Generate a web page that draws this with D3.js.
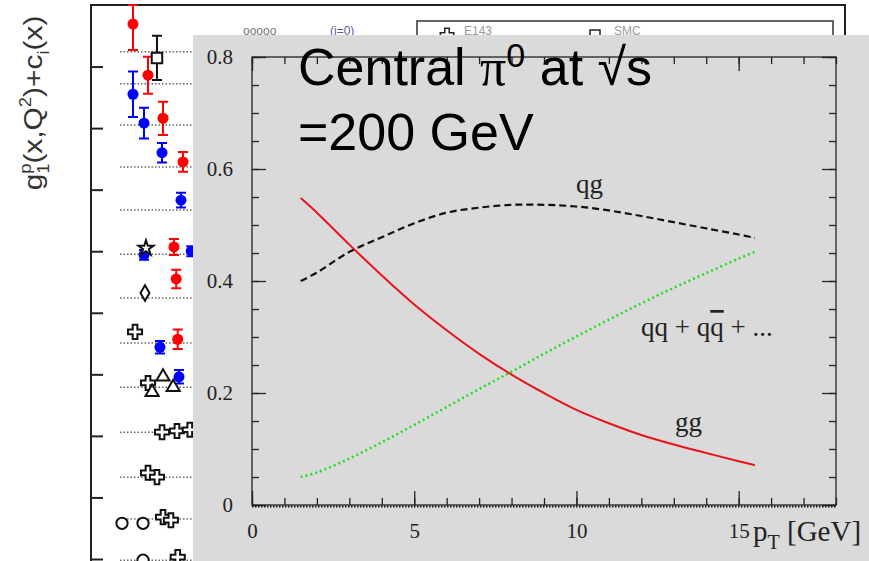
<!DOCTYPE html>
<html>
<head>
<meta charset="utf-8">
<script src="https://cdn.jsdelivr.net/npm/d3@7"></script>
<style>
  html, body { margin: 0; padding: 0; background: #fff; overflow: hidden; }
  svg { display: block; }
</style>
</head>
<body>
<div id="chart"></div>
<script>
// ---- inset: subprocess fractions for central pi0 at sqrt(s)=200 GeV ----
const pT     = [1.5, 2, 3, 4, 5, 6, 7, 8, 9, 10, 11, 12, 13, 14, 15, 15.5];
const ggFrac = [0.548, 0.522, 0.465, 0.41, 0.358, 0.312, 0.27, 0.233, 0.2, 0.17, 0.146, 0.125, 0.108, 0.093, 0.078, 0.071];
const qgFrac = [0.40, 0.415, 0.452, 0.478, 0.503, 0.522, 0.531, 0.536, 0.536, 0.533, 0.526, 0.516, 0.505, 0.494, 0.483, 0.477];
const qqFrac = [0.05, 0.058, 0.083, 0.112, 0.143, 0.175, 0.207, 0.238, 0.27, 0.301, 0.331, 0.36, 0.388, 0.414, 0.44, 0.452];
const xMajor = [0, 5, 10, 15];
const yMajor = [0, 0.2, 0.4, 0.6, 0.8];

// ---- background plot (mostly hidden behind the inset) ----
const bgTicks  = [0, 1, 2, 3, 4, 5, 6, 7, 8];
const bgGuides = [8.24, 7.72, 7.05, 6.37, 5.67, 4.95, 4.24, 3.51, 2.79, 2.06, 1.33, 0.65, -0.02];
// [x, y, error]
const redPts  = [[5.57, 8.69, 0.42], [7.56, 7.86, 0.30], [9.55, 7.16, 0.27], [12.2, 6.45, 0.16],
                 [11.0, 5.07, 0.13], [11.3, 4.55, 0.15], [11.5, 3.57, 0.16]];
const bluePts = [[5.57, 7.55, 0.37], [7.03, 7.08, 0.25], [9.42, 6.60, 0.16], [11.94, 5.83, 0.12],
                 [7.03, 4.94, 0.08], [13.3, 5.0, 0.08], [9.15, 3.44, 0.10], [11.67, 2.96, 0.11]];
// [x, y, marker, error]
const openPts = [[8.75, 8.14, 'square', 0.36], [7.29, 5.05, 'star', 0], [7.16, 4.32, 'diamond', 0],
                 [5.84, 3.69, 'cross', 0], [7.56, 2.86, 'cross', 0], [9.55, 2.96, 'triangle', 0],
                 [10.9, 2.79, 'triangle', 0], [8.1, 2.71, 'triangle', 0], [9.42, 2.06, 'cross', 0],
                 [11.4, 2.08, 'cross', 0], [13.1, 2.1, 'cross', 0], [7.56, 1.40, 'cross', 0],
                 [8.75, 1.33, 'cross', 0], [4.11, 0.58, 'circle', 0], [6.9, 0.58, 'circle', 0],
                 [9.55, 0.68, 'cross', 0], [10.6, 0.63, 'cross', 0], [6.9, -0.02, 'circle', 0],
                 [11.5, 0.03, 'cross', 0]];

const W = 869, H = 561;
const svg = d3.select('#chart').append('svg').attr('width', W).attr('height', H);
svg.append('rect').attr('width', W).attr('height', H).attr('fill', '#fff');

// ================= background plot =================
const bgX = d3.scaleLinear().domain([0, 100]).range([91, 845]);
const bgY = d3.scaleLinear().domain([0, 9]).range([559, 5]);
const bg = svg.append('g');
const sans = 'Liberation Sans, Arial, sans-serif';

bg.append('text')
  .attr('transform', `translate(42,103) rotate(-90) scale(1.15,1)`)
  .attr('text-anchor', 'middle')
  .attr('font-family', sans)
  .attr('font-size', 26).attr('fill', '#333')
  .call(t => {
    t.append('tspan').text('g');
    t.append('tspan').attr('font-size', 16).attr('dy', -11).text('p');
    t.append('tspan').attr('font-size', 16).attr('dx', -9).attr('dy', 18).text('1');
    t.append('tspan').attr('dy', -7).text('(x,Q');
    t.append('tspan').attr('font-size', 16).attr('dy', -11).text('2');
    t.append('tspan').attr('dy', 11).text(')+c');
    t.append('tspan').attr('font-size', 16).attr('dy', 7).text('i');
    t.append('tspan').attr('dy', -7).text('(x)');
  });

// frame
bg.append('path')
  .attr('d', `M${bgX(0)},${H}V${bgY(9)}H${bgX(100)}V${bgY(8)}`)
  .attr('fill', 'none').attr('stroke', '#222').attr('stroke-width', 2);
bg.append('g').attr('transform', `translate(${bgX(0)},0)`)
  .call(d3.axisRight(bgY).tickValues(bgTicks).tickSize(12).tickFormat(''))
  .call(g => { g.select('.domain').remove(); g.selectAll('line').attr('stroke', '#222').attr('stroke-width', 2); });

// legend remnants at the top
bg.append('rect').attr('x', 417).attr('y', 21).attr('width', 416).attr('height', 40)
  .attr('fill', 'none').attr('stroke', '#333').attr('stroke-width', 1.5);
bg.append('path').attr('d', d3.symbol(d3.symbolCross, 100)()).attr('transform', 'translate(447,35)')
  .attr('fill', '#fff').attr('stroke', '#222').attr('stroke-width', 1.5);
bg.append('path').attr('d', d3.symbol(d3.symbolSquare, 100)()).attr('transform', 'translate(595,35)')
  .attr('fill', '#fff').attr('stroke', '#222').attr('stroke-width', 1.5);
bg.append('text').attr('x', 464).attr('y', 35).attr('font-size', 12).attr('fill', '#999')
  .attr('font-family', sans).text('E143');
bg.append('text').attr('x', 614).attr('y', 35).attr('font-size', 12).attr('fill', '#999')
  .attr('font-family', sans).text('SMC');
bg.append('text').attr('x', 243).attr('y', 35).attr('font-size', 12).attr('fill', '#777')
  .attr('font-family', sans).text('ooooo');
bg.append('text').attr('x', 330).attr('y', 35).attr('font-size', 12).attr('fill', '#5a5aa0')
  .attr('font-family', sans).text('(i=0)');

// dotted guide lines
bg.selectAll('.guide').data(bgGuides).join('line')
  .attr('x1', bgX(3.85)).attr('x2', bgX(40))
  .attr('y1', d => bgY(d)).attr('y2', d => bgY(d))
  .attr('stroke', '#666').attr('stroke-width', 1.5).attr('stroke-dasharray', '1.5,2');

function errBars(sel, data, color) {
  sel.selectAll(null).data(data.filter(d => d[d.length === 4 ? 3 : 2] > 0)).join('path')
    .attr('d', d => {
      const e = d.length === 4 ? d[3] : d[2];
      const x = bgX(d[0]), y1 = Math.max(bgY(d[1] + e), bgY(9)), y2 = bgY(d[1] - e);
      return `M${x},${y1}V${y2}M${x - 5},${y1}h10M${x - 5},${y2}h10`;
    })
    .attr('stroke', color).attr('stroke-width', 2).attr('fill', 'none');
}
errBars(bg, redPts, '#f00');
errBars(bg, bluePts, '#00f');
errBars(bg, openPts, '#111');

bg.selectAll('.red').data(redPts).join('circle')
  .attr('cx', d => bgX(d[0])).attr('cy', d => bgY(d[1])).attr('r', 5.5).attr('fill', '#f00');
bg.selectAll('.blue').data(bluePts).join('circle')
  .attr('cx', d => bgX(d[0])).attr('cy', d => bgY(d[1])).attr('r', 5.5).attr('fill', '#00f');

const symbols = { square: d3.symbolSquare, star: d3.symbolStar, diamond: d3.symbolDiamond,
                  cross: d3.symbolCross, triangle: d3.symbolTriangle, circle: d3.symbolCircle };
const symSize = { square: 110, star: 70, diamond: 70, cross: 110, triangle: 75, circle: 100 };
bg.selectAll('.open').data(openPts).join('path')
  .attr('d', d => d3.symbol(symbols[d[2]], symSize[d[2]])())
  .attr('transform', d => `translate(${bgX(d[0])},${bgY(d[1])})`)
  .attr('fill', '#fff').attr('stroke', '#111').attr('stroke-width', 2);

// ================= inset =================
svg.append('rect').attr('x', 193).attr('y', 35).attr('width', W - 193).attr('height', H - 35)
  .attr('fill', '#dadada');

const x = d3.scaleLinear().domain([0, 18]).range([252, 836]);
const y = d3.scaleLinear().domain([0, 0.8]).range([505, 57]);
const ink = '#222';
const serif = 'Liberation Serif, Times New Roman, serif';

const inset = svg.append('g');
const xMinor = d3.range(0, 19, 1);
const yMinor = d3.range(0, 0.801, 0.05);

function ticks(axis, pos, values, size) {
  inset.append('g').attr('transform', pos)
    .call(axis.tickValues(values).tickSize(size).tickFormat(''))
    .call(g => { g.select('.domain').remove(); g.selectAll('line').attr('stroke', ink).attr('stroke-width', 1.3); });
}
ticks(d3.axisBottom(x), `translate(0,${y(0)})`, xMinor, -7);
ticks(d3.axisBottom(x), `translate(0,${y(0)})`, xMajor, -14);
ticks(d3.axisTop(x), `translate(0,${y(0.8)})`, xMinor, -7);
ticks(d3.axisTop(x), `translate(0,${y(0.8)})`, xMajor, -14);
ticks(d3.axisLeft(y), `translate(${x(0)},0)`, yMinor, -7);
ticks(d3.axisLeft(y), `translate(${x(0)},0)`, yMajor, -14);
ticks(d3.axisRight(y), `translate(${x(18)},0)`, yMinor, -7);
ticks(d3.axisRight(y), `translate(${x(18)},0)`, yMajor, -14);

inset.append('rect')
  .attr('x', x(0)).attr('y', y(0.8)).attr('width', x(18) - x(0)).attr('height', y(0) - y(0.8))
  .attr('fill', 'none').attr('stroke', ink).attr('stroke-width', 1.3);
// dotted zero line
inset.append('line')
  .attr('x1', x(0)).attr('x2', x(18)).attr('y1', y(0) + 1.5).attr('y2', y(0) + 1.5)
  .attr('stroke', '#111').attr('stroke-width', 2).attr('stroke-dasharray', '1.5,1.5');

// tick labels
inset.append('g').attr('transform', `translate(${x(0)},0)`)
  .call(d3.axisLeft(y).tickValues(yMajor).tickSize(0).tickPadding(19).tickFormat(d => d === 0 ? '0' : d3.format('.1f')(d)))
  .call(g => { g.select('.domain').remove();
    g.selectAll('text').attr('font-family', serif).attr('font-size', 21).attr('fill', ink); });
inset.append('g').attr('transform', `translate(0,${y(0)})`)
  .call(d3.axisBottom(x).tickValues(xMajor).tickSize(0).tickPadding(18).tickFormat(d3.format('d')))
  .call(g => { g.select('.domain').remove();
    g.selectAll('text').attr('font-family', serif).attr('font-size', 21).attr('fill', ink); });

// x axis title
inset.append('text').attr('x', 753).attr('y', 541)
  .attr('font-family', serif).attr('font-size', 29).attr('fill', ink)
  .call(t => {
    t.append('tspan').text('p');
    t.append('tspan').attr('font-size', 20).attr('dy', 8).text('T');
    t.append('tspan').attr('dy', -8).text(' [GeV]');
  });

// curves
const line = d3.line().x(d => x(d[0])).y(d => y(d[1])).curve(d3.curveCatmullRom.alpha(0.5));
const zipped = arr => pT.map((p, i) => [p, arr[i]]);

inset.append('path').datum(zipped(qgFrac)).attr('d', line)
  .attr('fill', 'none').attr('stroke', '#111').attr('stroke-width', 2.2).attr('stroke-dasharray', '7,4');
inset.append('path').datum(zipped(qqFrac)).attr('d', line)
  .attr('fill', 'none').attr('stroke', '#22dd22').attr('stroke-width', 2.5).attr('stroke-dasharray', '2,3');
inset.append('path').datum(zipped(ggFrac)).attr('d', line)
  .attr('fill', 'none').attr('stroke', '#e8131b').attr('stroke-width', 2);

// curve labels
const lab = (px, py, txt) => inset.append('text').attr('x', px).attr('y', py)
  .attr('font-family', serif).attr('font-size', 27).attr('fill', ink).text(txt);
lab(576, 193, 'qg');
lab(675, 431, 'gg');
inset.append('text').attr('x', 641).attr('y', 336)
  .attr('font-family', serif).attr('font-size', 27).attr('fill', ink)
  .call(t => {
    t.append('tspan').text('qq + q');
    t.append('tspan').style('text-decoration', 'overline').text('q');
    t.append('tspan').text(' + ...');
  });

// title
const title = svg.append('text').attr('x', 298).attr('y', 85)
  .attr('font-family', sans).attr('font-size', 52).attr('fill', '#000');
title.append('tspan').text('Central ');
title.append('tspan').attr('font-family', serif).text('π');
title.append('tspan').attr('font-size', 34).attr('dy', -18).text('0');
title.append('tspan').attr('dy', 18).text(' at √s');
svg.append('text').attr('x', 298).attr('y', 150)
  .attr('font-family', sans).attr('font-size', 52).attr('fill', '#000')
  .text('=200 GeV');
</script>
</body>
</html>
